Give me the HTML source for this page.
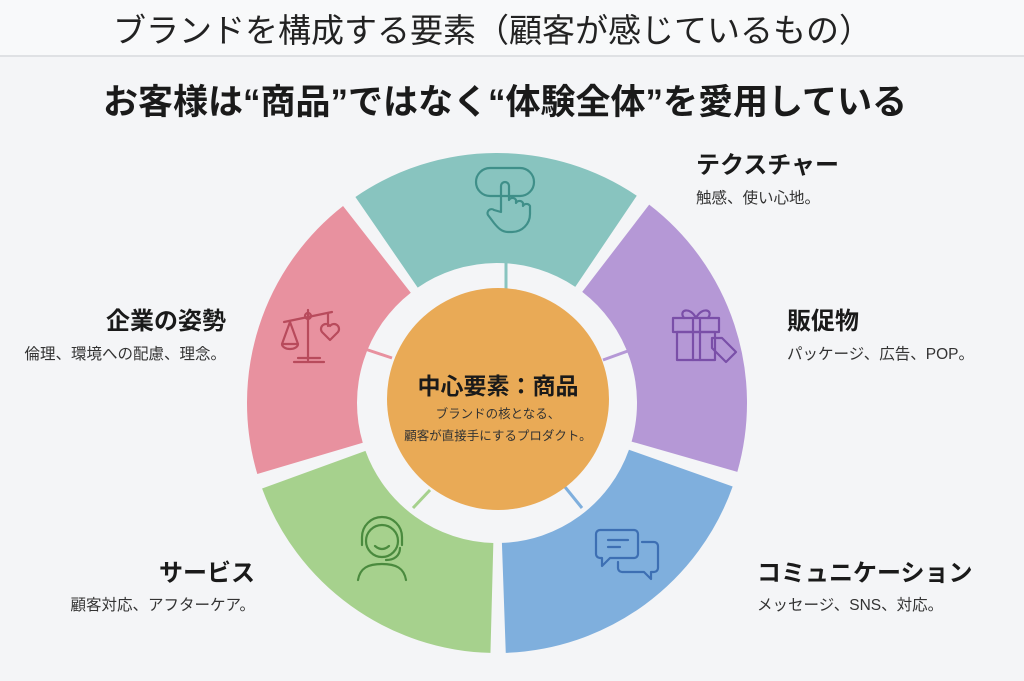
<!DOCTYPE html>
<html><head><meta charset="utf-8">
<style>
html,body{margin:0;padding:0}
body{width:1024px;height:681px;overflow:hidden;background:#f4f5f7;font-family:"Liberation Sans","Noto Sans CJK JP",sans-serif;position:relative;color:#1a1a1a}
.hdr{position:absolute;left:0;top:0;width:1024px;height:55px;background:#f8f9fa;border-bottom:2px solid #dfe1e4}
.t{position:absolute;white-space:nowrap}
.h{font-size:24px;font-weight:bold}
.s{font-size:15.5px;color:#333}
</style></head><body>
<div class="hdr"></div>
<div class="t" style="left:0;width:985px;text-align:center;top:4px;font-size:33px;color:#222;">ブランドを構成する要素（顧客が感じているもの）</div>
<div class="t" style="left:0;width:1010px;text-align:center;top:74px;font-size:35px;font-weight:bold;">お客様は“商品”ではなく“体験全体”を愛用している</div>

<svg style="position:absolute;left:0;top:0" width="1024" height="681">
 <g fill="none" stroke-width="110">
  <circle cx="497" cy="403" r="195" stroke="#88c4bf" stroke-dasharray="233 992.2" transform="rotate(-124.5 497 403)"/>
  <circle cx="497" cy="403" r="195" stroke="#b598d6" stroke-dasharray="233 992.2" transform="rotate(-52.5 497 403)"/>
  <circle cx="497" cy="403" r="195" stroke="#7fafdd" stroke-dasharray="233 992.2" transform="rotate(19.5 497 403)"/>
  <circle cx="497" cy="403" r="195" stroke="#a6d18d" stroke-dasharray="233 992.2" transform="rotate(91.5 497 403)"/>
  <circle cx="497" cy="403" r="195" stroke="#e8919f" stroke-dasharray="233 992.2" transform="rotate(163.5 497 403)"/>
 </g>
 <g stroke-width="3">
  <line x1="506" y1="258" x2="506" y2="290" stroke="#88c4bf"/>
  <line x1="603" y1="360" x2="636" y2="348" stroke="#b598d6"/>
  <line x1="565" y1="487" x2="582" y2="508" stroke="#7fafdd"/>
  <line x1="430" y1="490" x2="413" y2="508" stroke="#a6d18d"/>
  <line x1="392" y1="358" x2="362" y2="348" stroke="#e8919f"/>
 </g>
 <circle cx="498" cy="399" r="111" fill="#e9aa56"/>
 <g fill="none" stroke-width="2.2" stroke-linecap="round" stroke-linejoin="round">
  <g stroke="#3f8f89">
   <rect x="476" y="168" width="58" height="28" rx="14"/>
   <path d="M501 212 v-26 a4 4 0 0 1 8 0 v14 a4 4 0 0 1 7 0 v3 a4 4 0 0 1 7 0 v3 a4 4 0 0 1 7 0 v8 c0 10 -8 18 -18 18 h-4 c-6 0 -10 -4 -14 -9 l-6 -8 a4 4 0 0 1 6 -5 z"/>
  </g>
  <g stroke="#7a4fa8">
   <rect x="673" y="318" width="46" height="14"/><rect x="677" y="332" width="38" height="28"/>
   <path d="M693 318 v42 M700 318 v42 M696 318 c-6 -12 -18 -8 -12 0 M696 318 c6 -12 18 -8 12 0"/>
   <path d="M712 338 l10 0 l14 14 l-10 10 l-14 -14 z"/>
  </g>
  <g stroke="#3d6fb3">
   <path d="M600 530 h34 a4 4 0 0 1 4 4 v20 a4 4 0 0 1 -4 4 h-24 l-8 8 v-8 h-2 a4 4 0 0 1 -4 -4 v-20 a4 4 0 0 1 4 -4 z M608 540 h20 M608 547 h12"/>
   <path d="M642 542 h12 a4 4 0 0 1 4 4 v22 a4 4 0 0 1 -4 4 h-3 v7 l-7 -7 h-22 a4 4 0 0 1 -4 -4 v-6"/>
  </g>
  <g stroke="#4a8a3e">
   <circle cx="382" cy="541" r="16"/><path d="M362 545 v-8 a20 20 0 0 1 40 0 v8 M400 548 c0 8 -6 12 -14 12 M375 546 q7 6 14 0"/>
   <path d="M358 580 c2 -12 10 -16 24 -16 s22 4 24 16"/>
  </g>
  <g stroke="#b84b5c">
   <path d="M308 310 v50 M294 362 h30 M298 358 h22 M284 322 l48 -10 M290 322 l-8 22 h16 z M282 344 a8 5 0 0 0 16 0"/>
   <circle cx="308" cy="316" r="3"/>
   <path d="M328 314 v12 M330 340 l-8 -8 a5 5 0 0 1 8 -6 a5 5 0 0 1 8 6 z"/>
  </g>
 </g>
</svg>

<div class="t" style="left:388px;width:220px;text-align:center;top:367px;font-size:23px;font-weight:bold;">中心要素：商品</div>
<div class="t" style="left:388px;width:220px;text-align:center;top:403px;font-size:12.5px;line-height:22px;color:#333">ブランドの核となる、<br>顧客が直接手にするプロダクト。</div>

<div class="t h" style="left:696px;top:145px;">テクスチャー</div>
<div class="t s" style="left:696px;top:186px;">触感、使い心地。</div>
<div class="t h" style="left:787px;top:301px;">販促物</div>
<div class="t s" style="left:787px;top:342px;">パッケージ、広告、POP。</div>
<div class="t h" style="left:757px;top:553px;">コミュニケーション</div>
<div class="t s" style="left:757px;top:593px;">メッセージ、SNS、対応。</div>
<div class="t h" style="right:798px;top:301px;">企業の姿勢</div>
<div class="t s" style="right:798px;top:342px;">倫理、環境への配慮、理念。</div>
<div class="t h" style="right:769px;top:553px;">サービス</div>
<div class="t s" style="right:769px;top:593px;">顧客対応、アフターケア。</div>
</body></html>
